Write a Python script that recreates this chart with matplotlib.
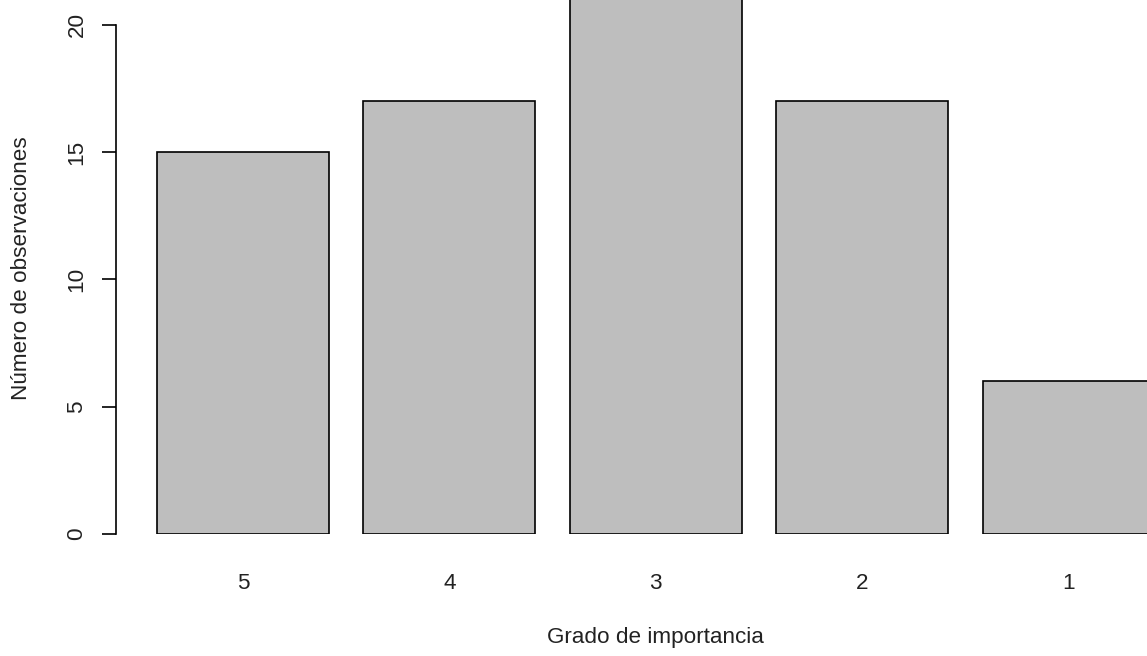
import matplotlib
matplotlib.use('Agg')
from matplotlib import pyplot as plt

grados = ['5', '4', '3', '2', '1']
observaciones = [15, 17, 21, 17, 6]
yticks = [0, 5, 10, 15, 20]

plt.rcParams['font.family'] = ['Liberation Sans', 'DejaVu Sans']

W, H = 1147, 656
fig = plt.figure(figsize=(W / 100, H / 100), dpi=100)

# pixel layout of the R plot region
px_per_unit_x = 172.0
px_per_unit_y = 25.47
ax_left_px, ax_bottom_px = 116, 534
ax = fig.add_axes([ax_left_px / W, (H - ax_bottom_px) / H,
                   (W - ax_left_px) / W, ax_bottom_px / H])

# R barplot: width 1, space 0.2
centers = [0.7 + 1.2 * i for i in range(len(grados))]
ax.bar(centers, observaciones, width=1.0, color='#bebebe',
       edgecolor='black', linewidth=1.2)

x0 = 0.2 - (157 - ax_left_px) / px_per_unit_x
ax.set_xlim(x0, x0 + (W - ax_left_px) / px_per_unit_x)
ax.set_ylim(0, ax_bottom_px / px_per_unit_y)

for s in ['top', 'right', 'bottom']:
    ax.spines[s].set_visible(False)
ax.spines['left'].set_bounds(0, 20)
ax.spines['left'].set_linewidth(1.2)

fs = 16.2
txt = '#222222'
ax.set_yticks(yticks)
ax.set_yticklabels([str(v) for v in yticks], rotation=90, va='center')
ax.tick_params(axis='y', length=10, width=1.2, pad=10.5, labelsize=fs,
               labelcolor=txt)
ax.set_xticks(centers)
ax.set_xticklabels(grados)
ax.tick_params(axis='x', length=0, pad=28, labelsize=fs, labelcolor=txt)

fig.text(655 / W, 1 - 637 / H, 'Grado de importancia', ha='center',
         va='center', fontsize=fs, color=txt)
fig.text(22 / W, 1 - 268 / H, 'Número de observaciones', ha='center',
         va='center', rotation=90, fontsize=fs, color=txt)

fig.savefig('out.png', dpi=100)
